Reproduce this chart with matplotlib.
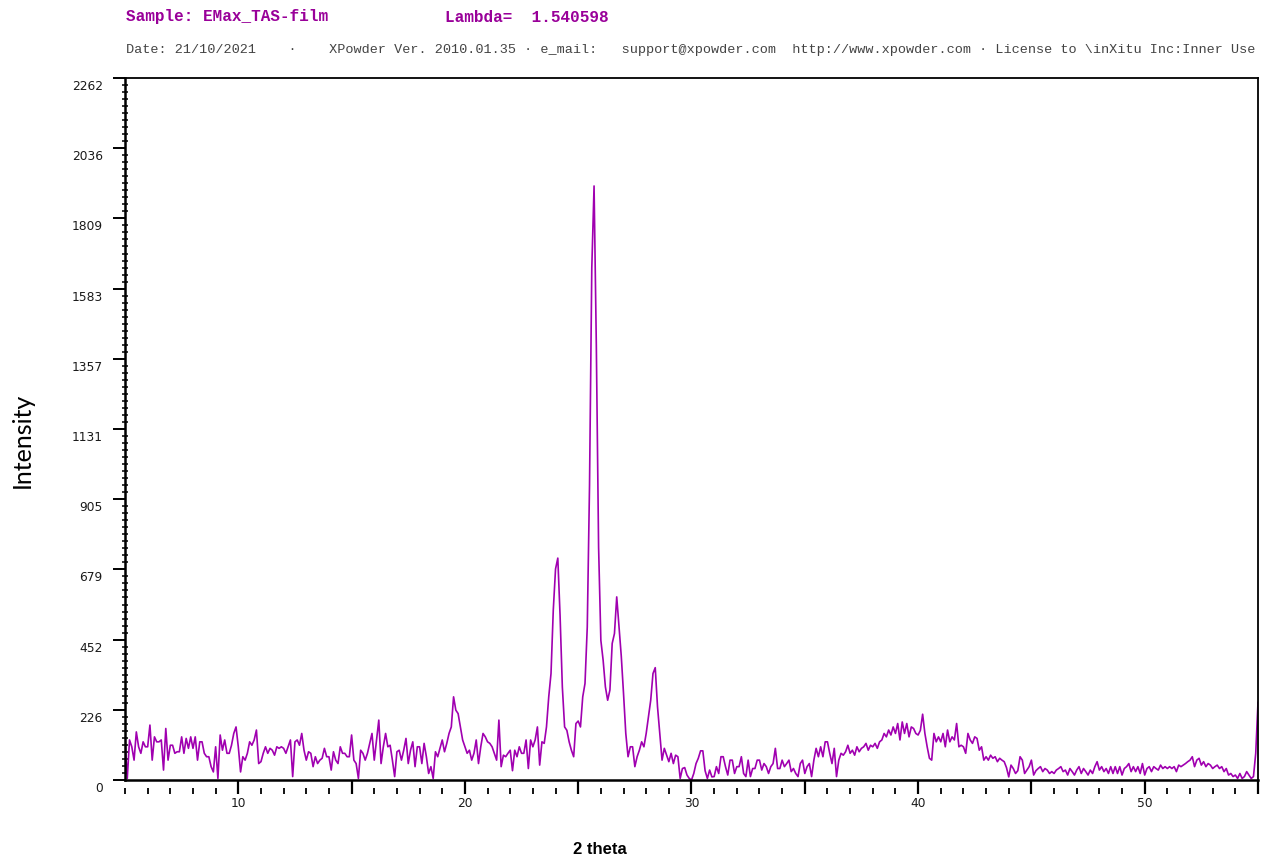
import numpy as np
import matplotlib
matplotlib.use('Agg')
import matplotlib.pyplot as plt
import matplotlib.transforms as mtransforms

# scan settings of the pattern (degrees 2 theta)
scan_start = 5.0
scan_step = 0.1

# intensity counts, one row per degree (5.0 ... 54.9), last value at 55.0
intensity = [
    129, 5, 129, 107, 64, 155, 107, 86, 123, 107,        # 5
    107, 177, 64, 139, 123, 123, 129, 32, 166, 64,       # 6
    112, 112, 86, 91, 91, 139, 86, 134, 102, 139,        # 7
    102, 139, 64, 123, 123, 86, 75, 75, 43, 26,          # 8
    107, 5, 145, 96, 129, 86, 86, 112, 150, 171,         # 9
    107, 26, 75, 64, 86, 123, 112, 129, 161, 53,         # 10
    59, 86, 107, 86, 102, 96, 80, 107, 102, 107,         # 11
    102, 86, 107, 129, 11, 123, 129, 112, 150, 96,       # 12
    64, 91, 86, 43, 75, 53, 64, 70, 102, 75,             # 13
    75, 32, 91, 64, 53, 107, 86, 86, 75, 75,             # 14
    145, 64, 53, 5, 96, 86, 64, 86, 118, 150,            # 15
    64, 129, 193, 53, 107, 150, 107, 112, 64, 11,        # 16
    91, 96, 64, 96, 134, 53, 96, 123, 43, 107,           # 17
    107, 53, 118, 75, 21, 43, 5, 91, 75, 102,            # 18
    129, 91, 118, 150, 171, 268, 225, 214, 171, 129,     # 19
    107, 86, 96, 64, 86, 129, 53, 107, 150, 139,         # 20
    123, 118, 107, 86, 64, 193, 43, 80, 75, 86,          # 21
    96, 30, 96, 75, 107, 86, 86, 129, 37, 129,           # 22
    107, 129, 171, 48, 123, 118, 171, 268, 343, 547,     # 23
    680, 715, 530, 300, 171, 160, 123, 96, 75, 182,      # 24
    190, 171, 268, 311, 493, 950, 1650, 1914, 1400, 750, # 25
    450, 386, 300, 257, 290, 440, 472, 590, 493, 400,    # 26
    279, 150, 75, 107, 107, 43, 75, 96, 123, 107,        # 27
    150, 204, 257, 343, 362, 236, 150, 64, 102, 80,      # 28
    59, 86, 53, 80, 75, 5, 37, 40, 16, 5,                # 29
    0, 21, 53, 70, 94, 94, 30, 5, 32, 10,                # 30
    11, 43, 21, 75, 75, 43, 16, 64, 64, 21,              # 31
    43, 43, 75, 21, 11, 64, 11, 37, 37, 64,              # 32
    64, 32, 53, 43, 21, 43, 53, 102, 37, 37,             # 33
    64, 43, 53, 64, 27, 37, 21, 11, 53, 64,              # 34
    21, 43, 53, 11, 64, 102, 75, 107, 75, 123,           # 35
    123, 86, 53, 102, 11, 64, 86, 80, 91, 112,           # 36
    86, 96, 80, 107, 91, 102, 107, 118, 96, 112,         # 37
    107, 118, 102, 123, 129, 150, 139, 161, 145, 171,    # 38
    150, 182, 129, 187, 150, 182, 139, 171, 166, 150,    # 39
    145, 160, 212, 150, 107, 70, 64, 150, 123, 139,      # 40
    123, 150, 107, 161, 123, 139, 129, 182, 107, 112,    # 41
    107, 86, 150, 129, 118, 139, 134, 96, 107, 64,       # 42
    75, 64, 80, 70, 75, 59, 70, 64, 59, 40,              # 43
    10, 48, 37, 21, 30, 75, 64, 21, 32, 43,              # 44
    64, 16, 30, 37, 43, 27, 37, 32, 21, 27,              # 45
    21, 32, 37, 43, 27, 32, 16, 37, 27, 16,              # 46
    32, 43, 21, 37, 27, 16, 32, 21, 43, 59,              # 47
    32, 43, 27, 37, 21, 43, 21, 43, 21, 43,              # 48
    16, 37, 43, 53, 27, 43, 27, 43, 21, 53,              # 49
    16, 37, 43, 27, 43, 37, 32, 48, 37, 43,              # 50
    37, 43, 37, 43, 27, 48, 43, 48, 53, 59,              # 51
    64, 75, 43, 64, 70, 48, 59, 43, 53, 48,              # 52
    37, 43, 48, 37, 43, 27, 37, 16, 21, 11,              # 53
    16, 5, 21, 5, 11, 27, 16, 5, 11, 86,                 # 54
    250,                                                 # 55
]

y_major = [0, 226, 452, 679, 905, 1131, 1357, 1583, 1809, 2036, 2262]
x_major = [10, 15, 20, 25, 30, 35, 40, 45, 50, 55]
x_labels = ['10', '', '20', '', '30', '', '40', '', '50', '']
x_minor = [d for d in range(5, 55) if d % 5 != 0] + [5]

line_color = '#a000b0'
title_color = '#990099'

two_theta = scan_start + scan_step * np.arange(len(intensity))

fig = plt.figure(figsize=(12.67, 8.64), dpi=100)
ax = fig.add_axes([125 / 1267, 1 - 780 / 864, 1133 / 1267, 702 / 864])

ax.plot(two_theta, intensity, color=line_color, lw=1.2)

ax.set_xlim(5, 55)
ax.set_ylim(0, 2262)

# y axis: majors every 226.2 with 10 minors in between
ax.set_yticks([2262 * k / 10 for k in range(11)])
ax.set_yticklabels([str(v) for v in y_major])
ax.set_yticks([2262 * k / 100 for k in range(101)], minor=True)
ax.tick_params(axis='y', which='major', direction='out', length=9, width=1.4,
               pad=7, labelsize=8.8, labelcolor='#1a1a1a')
ax.tick_params(axis='y', which='minor', direction='inout', length=4, width=1.1)
# labels sit a little below their tick in the original
offset = mtransforms.ScaledTranslation(0, -7 / 100, fig.dpi_scale_trans)
for lab in ax.get_yticklabels():
    lab.set_transform(lab.get_transform() + offset)

# x axis
ax.set_xticks(x_major)
ax.set_xticklabels(x_labels)
ax.tick_params(axis='x', which='major', direction='out', length=10, width=1.6,
               pad=2, labelsize=8.8, labelcolor='#1a1a1a')
# short detached ticks for every degree
ax.vlines(x_minor, -0.0199, -0.0114, transform=ax.get_xaxis_transform(),
          colors='black', lw=1.3, clip_on=False)

for side in ['left', 'bottom']:
    ax.spines[side].set_linewidth(1.8)
for side in ['top', 'right']:
    ax.spines[side].set_linewidth(1.3)

fig.text(126 / 1267, 1 - 17 / 864, 'Sample: EMax_TAS-film', color=title_color,
         fontsize=11.5, fontweight='bold', family='Liberation Mono', va='center')
fig.text(445 / 1267, 1 - 17 / 864, 'Lambda=  1.540598', color=title_color,
         fontsize=11.5, fontweight='bold', family='Liberation Mono', va='center')
fig.text(126 / 1267, 1 - 50 / 864,
         'Date: 21/10/2021    \u00b7    XPowder Ver. 2010.01.35 \u00b7 e_mail:   '
         'support@xpowder.com  http://www.xpowder.com \u00b7 License to \\inXitu Inc:Inner Use',
         color='#444444', fontsize=9.7, family='Liberation Mono', va='center')

fig.text(22 / 1267, 1 - 440 / 864, 'Intensity', rotation=90, fontsize=18,
         family='Lato', ha='center', va='center')
fig.text(600 / 1267, 1 - 850 / 864, '2 theta', fontsize=12, fontweight='bold',
         family='Liberation Sans', ha='center', va='center')

plt.savefig('out.png', dpi=100)
